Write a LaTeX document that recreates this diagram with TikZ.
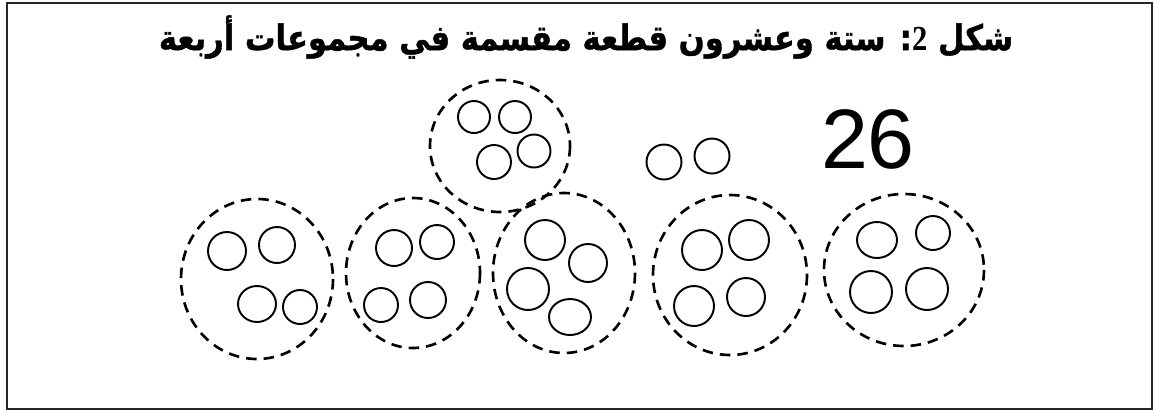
\documentclass[tikz,border=0pt]{standalone}
\usepackage{graphicx}
\usepackage{fontspec}
\TeXXeTstate=1
\newfontfamily\arabicfont[Script=Arabic, BoldFeatures={FakeBold=1.2}]{DejaVu Sans}
\newfontfamily\serifdigit{Liberation Serif}
\newfontfamily\handfont{Liberation Sans}

\begin{document}
\begin{tikzpicture}[
    x=0.02cm, y=-0.02cm,
    bead/.style={line width=1.1pt},
    group/.style={line width=1.5pt, dash pattern=on 6pt off 4pt},
    title/.style={font=\arabicfont\bfseries\fontsize{17.4}{21}\selectfont, inner sep=0pt},
    tally/.style={font=\handfont\fontsize{48}{48}\selectfont, inner sep=0pt},
]
\useasboundingbox (0,0) rectangle (1154,410);

% Outer frame
\draw[line width=1.2pt, black!85] (7,3) rectangle (1152,409);

% Caption
\node[title] (title) at (586,37) {\scalebox{1}[1.15]{\beginR شكل {\serifdigit\bfseries 2}: ستة وعشرون قطعة مقسمة في مجموعات أربعة\endR}};

% Group on top (between groups 2 and 3)
\draw[group] (500,146) ellipse [x radius=70, y radius=66];
\draw[bead] (474,117) circle [radius=16];
\draw[bead] (515,117) circle [radius=16];
\draw[bead] (534,151) circle [radius=16.5];
\draw[bead] (494,162) circle [radius=17];

% Group 1 (bottom left)
\draw[group] (257,279) ellipse [x radius=76, y radius=80];
\draw[bead] (227,251) circle [radius=19];
\draw[bead] (277,245) circle [radius=18];
\draw[bead] (257,304) ellipse [x radius=19, y radius=18];
\draw[bead] (300,307) circle [radius=17];

% Group 2
\draw[group] (413,273) ellipse [x radius=67, y radius=75];
\draw[bead] (394,248) circle [radius=18];
\draw[bead] (437,242) circle [radius=17];
\draw[bead] (381,305) circle [radius=17];
\draw[bead] (428,300) circle [radius=18];

% Group 3
\draw[group] (564,273) ellipse [x radius=71, y radius=80];
\draw[bead] (545,240) circle [radius=20];
\draw[bead] (588,263) circle [radius=19];
\draw[bead] (528,289) circle [radius=21];
\draw[bead] (570,317) ellipse [x radius=21, y radius=18];

% Two loose pieces (the remainder)
\draw[bead] (664,162) circle [radius=17.5];
\draw[bead] (712,156) circle [radius=17.5];

% Handwritten total
\node[tally] (total) at (868,139) {26};

% Group 4
\draw[group] (730,275) ellipse [x radius=77, y radius=80];
\draw[bead] (702,250) circle [radius=20];
\draw[bead] (749,240) circle [radius=20];
\draw[bead] (694,306) circle [radius=20];
\draw[bead] (746,297) circle [radius=19];

% Group 5 (bottom right)
\draw[group] (904,270) ellipse [x radius=80, y radius=76];
\draw[bead] (877,240) ellipse [x radius=20, y radius=18];
\draw[bead] (933,233) circle [radius=17];
\draw[bead] (871,292) circle [radius=21];
\draw[bead] (927,289) circle [radius=21];

\end{tikzpicture}
\end{document}
